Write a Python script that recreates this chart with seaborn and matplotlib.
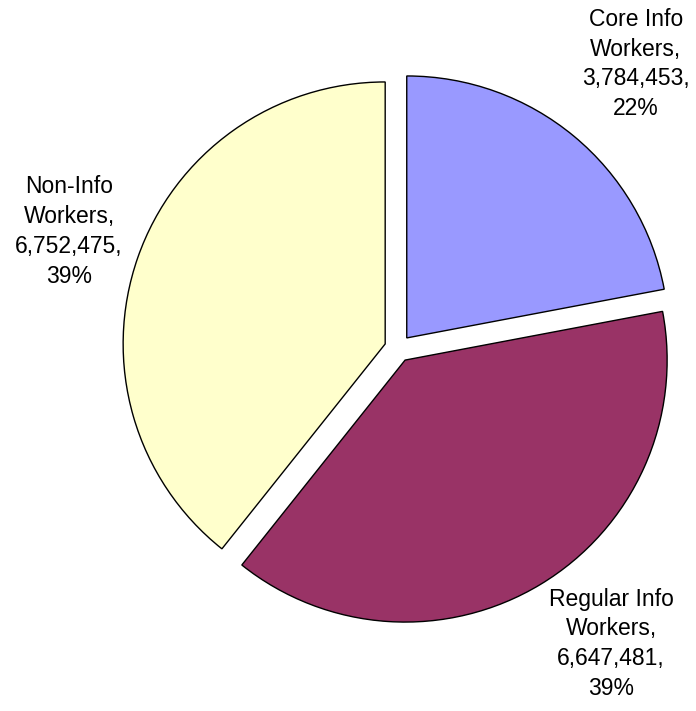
import numpy as np
import matplotlib
matplotlib.use("Agg")
import matplotlib.pyplot as plt
import seaborn as sns

# Worker categories and headcounts
categories = ["Core Info\nWorkers", "Regular Info\nWorkers", "Non-Info\nWorkers"]
counts = [3784453, 6647481, 6752475]
colors = ["#9999FF", "#993366", "#FFFFCC"]

sns.set_style("white")
plt.rcParams["font.family"] = ["Liberation Sans", "DejaVu Sans"]

fig = plt.figure(figsize=(6.96, 7.11), dpi=100)
ax = fig.add_axes([0, 0, 1, 1])

total = sum(counts)
labels = [f"{c},\n{v:,},\n{round(100 * v / total):.0f}%" for c, v in zip(categories, counts)]

wedges, texts = ax.pie(
    counts,
    labels=labels,
    colors=colors,
    startangle=90,
    counterclock=False,
    explode=[0.052, 0.052, 0.052],
    labeldistance=1.4,
    wedgeprops=dict(edgecolor="black", linewidth=1.0),
    textprops=dict(fontsize=16.5, color="black", linespacing=1.38),
)

# Label anchors outside the pie: (distance in radii, angle in degrees)
label_polar = [(1.415, 50.1), (1.390, -54.2), (1.333, 160.4)]
for t, (r, ang) in zip(texts, label_polar):
    a = np.deg2rad(ang)
    t.set_position((r * np.cos(a), r * np.sin(a)))
    t.set_ha("center")
    t.set_va("center")

# One data unit = pie radius; keep pixel scale equal in x and y
ax.set_xlim(-1.519, 1.137)
ax.set_ylim(-1.384, 1.330)
ax.set_aspect("auto")
ax.axis("off")

fig.savefig("out.png", dpi=100, facecolor="white")
